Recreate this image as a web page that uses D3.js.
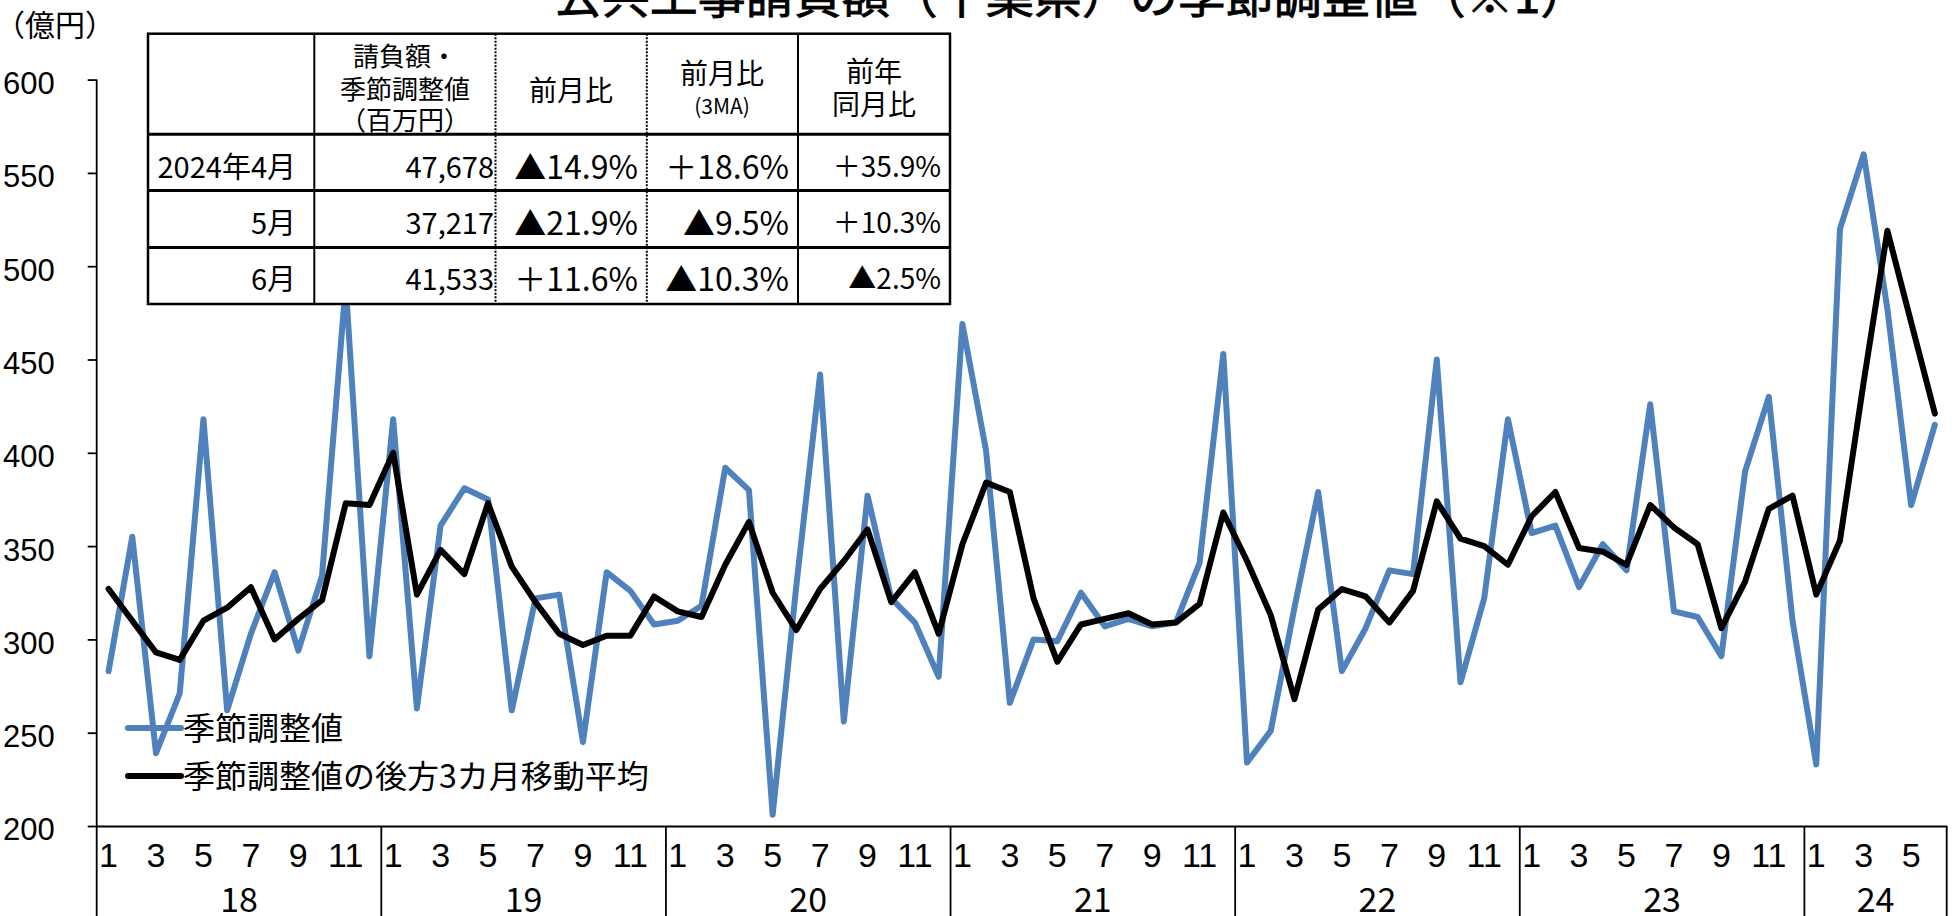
<!DOCTYPE html>
<html>
<head>
<meta charset="utf-8">
<script src="https://cdn.jsdelivr.net/npm/d3@7"></script>
<style>
	body { margin: 0; background: #fff; }
	svg { display: block; font-family: "Noto Sans CJK JP", "Noto Sans", sans-serif; }
</style>
</head>
<body>
<div id="container"></div>
<script>
// categories
const yearLabels = ["18", "19", "20", "21", "22", "23", "24"];
const monthsPerYear = [12, 12, 12, 12, 12, 12, 6];
const monthTickLabels = [1, 3, 5, 7, 9, 11];
const yTicks = [200, 250, 300, 350, 400, 450, 500, 550, 600];

// 季節調整値 (億円), Jan 2018 - Jun 2024
const seasonal = [
	283, 355, 239, 271, 418, 262, 303, 336, 294, 334, 490, 291, // 18
	418, 263, 361, 381, 375, 262, 322, 324, 245, 336, 326, 308, // 19
	310, 318, 392, 380, 206, 329, 442, 256, 377, 322, 309, 280, // 20
	469, 401, 266, 300, 299, 325, 307, 311, 307, 309, 341, 453, // 21
	234, 251, 317, 379, 283, 306, 337, 335, 450, 277, 322, 418, // 22
	357, 361, 328, 351, 337, 426, 315, 312, 291, 390, 430, 310, // 23
	233, 520, 560, 477, 372, 415 // 24
];

// 後方3カ月移動平均
const movingAvg = [
	327, 310, 293, 289, 310, 317, 328, 300, 311, 321, 373, 372,
	400, 324, 348, 335, 373, 339, 320, 303, 297, 302, 302, 323,
	315, 312, 340, 363, 325, 305, 327, 342, 359, 320, 336, 303,
	351, 384, 379, 322, 288, 308, 311, 314, 308, 309, 319, 368,
	342, 313, 268, 316, 327, 323, 309, 326, 374, 354, 350, 340,
	366, 379, 349, 347, 340, 372, 360, 351, 306, 331, 370, 377,
	324, 353, 438, 519, 470, 421
];

const seriesNames = ["季節調整値", "季節調整値の後方3カ月移動平均"];
const titleText = "公共工事請負額（千葉県）の季節調整値（※1）";
const unitText = "（億円）";

// table
const rowLabels = ["2024年4月", "5月", "6月"];
const amountCol = ["47,678", "37,217", "41,533"];
const momCol = ["▲14.9%", "▲21.9%", "＋11.6%"];
const mom3Col = ["＋18.6%", "▲9.5%", "▲10.3%"];
const yoyCol = ["＋35.9%", "＋10.3%", "▲2.5%"];

const blue = "#4f81bd";

drawChart();

function drawChart() {
	const width = 1955;
	const height = 916;
	const plot = { left: 96.7, right: 1946.7, top: 79.6, bottom: 826 };

	const categories = yearLabels.flatMap((yr, i) =>
		d3.range(1, monthsPerYear[i] + 1).map((m) => `${yr}-${m}`)
	);

	const svg = d3
		.select("#container")
		.append("svg")
		.attr("width", width)
		.attr("height", height);

	const x = d3.scaleBand().domain(categories).range([plot.left, plot.right]);
	const y = d3.scaleLinear().domain([200, 600]).range([plot.bottom, plot.top]);
	const cx = (i) => x(categories[i]) + x.bandwidth() / 2;

	// title (cut off at top)
	svg.append("text")
		.attr("x", 1071)
		.attr("y", 13)
		.attr("text-anchor", "middle")
		.attr("font-size", 48)
		.attr("stroke", "#000")
		.attr("stroke-width", 0.8)
		.text(titleText);

	svg.append("text")
		.attr("x", -5)
		.attr("y", 36)
		.attr("font-size", 30)
		.text(unitText);

	// y axis
	const yAxis = svg.append("g")
		.attr("transform", `translate(${plot.left},0)`)
		.call(d3.axisLeft(y).tickValues(yTicks).tickSize(9).tickSizeOuter(0).tickPadding(33));
	yAxis.select(".domain").remove();
	yAxis.selectAll(".tick line").attr("stroke", "#000").attr("stroke-width", 1.8);
	yAxis.selectAll(".tick text")
		.attr("font-size", 31)
		.attr("font-family", null)
		.attr("dy", "0.45em")
		.attr("fill", "#000");

	svg.append("line")
		.attr("x1", plot.left).attr("x2", plot.left)
		.attr("y1", plot.top).attr("y2", height)
		.attr("stroke", "#000").attr("stroke-width", 1.8);

	// x axis
	const xAxis = svg.append("g")
		.attr("transform", `translate(0,${plot.bottom})`)
		.call(
			d3.axisBottom(x)
				.tickValues(categories.filter((c) => monthTickLabels.includes(+c.split("-")[1])))
				.tickFormat((c) => c.split("-")[1])
				.tickSize(0)
				.tickSizeOuter(0)
				.tickPadding(17)
		);
	xAxis.select(".domain").attr("stroke", "#000").attr("stroke-width", 1.8);
	xAxis.selectAll(".tick text").attr("font-size", 34).attr("font-family", null).attr("fill", "#000");

	// year labels and separators
	let start = 0;
	yearLabels.forEach((yr, i) => {
		const first = categories[start];
		const last = categories[start + monthsPerYear[i] - 1];
		const x0 = x(first);
		const x1 = x(last) + x.bandwidth();
		svg.append("text")
			.attr("x", (x0 + x1) / 2)
			.attr("y", 912)
			.attr("text-anchor", "middle")
			.attr("font-size", 34)
			.text(yr);
		svg.append("line")
			.attr("x1", x1).attr("x2", x1)
			.attr("y1", plot.bottom).attr("y2", height)
			.attr("stroke", "#000").attr("stroke-width", 1.8);
		start += monthsPerYear[i];
	});

	// lines
	const line = d3.line().x((d, i) => cx(i)).y((d) => y(d));

	svg.append("path")
		.attr("d", line(seasonal))
		.attr("fill", "none")
		.attr("stroke", blue)
		.attr("stroke-width", 6)
		.attr("stroke-linejoin", "round")
		.attr("stroke-linecap", "round");

	svg.append("path")
		.attr("d", line(movingAvg))
		.attr("fill", "none")
		.attr("stroke", "#000")
		.attr("stroke-width", 6)
		.attr("stroke-linejoin", "round")
		.attr("stroke-linecap", "round");

	// legend
	const legend = svg.append("g").attr("class", "legend");
	[blue, "#000"].forEach((color, i) => {
		const ly = 728 + i * 48;
		legend.append("line")
			.attr("x1", 128).attr("x2", 181)
			.attr("y1", ly).attr("y2", ly)
			.attr("stroke", color)
			.attr("stroke-width", 6)
			.attr("stroke-linecap", "round");
		legend.append("text")
			.attr("x", 183)
			.attr("y", ly + 12)
			.attr("font-size", 32)
			.text(seriesNames[i]);
	});

	drawTable();

	function drawTable() {
		const cols = [148, 314.3, 495.5, 646.8, 798, 950];
		const rows = [33.7, 134.2, 190.4, 247.5, 304];
		const t = svg.append("g").attr("class", "table");

		t.append("rect")
			.attr("x", cols[0]).attr("y", rows[0])
			.attr("width", cols[5] - cols[0])
			.attr("height", rows[4] - rows[0])
			.attr("fill", "#fff")
			.attr("stroke", "#000")
			.attr("stroke-width", 2.5);

		rows.slice(1, 4).forEach((ry) => {
			t.append("line")
				.attr("x1", cols[0]).attr("x2", cols[5])
				.attr("y1", ry).attr("y2", ry)
				.attr("stroke", "#000").attr("stroke-width", 3);
		});
		[1, 4].forEach((c) => {
			t.append("line")
				.attr("x1", cols[c]).attr("x2", cols[c])
				.attr("y1", rows[0]).attr("y2", rows[4])
				.attr("stroke", "#000").attr("stroke-width", 2);
		});
		[2, 3].forEach((c) => {
			t.append("line")
				.attr("x1", cols[c]).attr("x2", cols[c])
				.attr("y1", rows[0]).attr("y2", rows[4])
				.attr("stroke", "#000").attr("stroke-width", 2)
				.attr("stroke-dasharray", "2,1.5");
		});

		const cell = (tx, ty, text, size, anchor) =>
			t.append("text")
				.attr("x", tx).attr("y", ty)
				.attr("text-anchor", anchor)
				.attr("dominant-baseline", "central")
				.attr("font-size", size)
				.text(text);

		// header
		cell(405, 54, "請負額・", 26, "middle");
		cell(405, 87.6, "季節調整値", 26, "middle");
		cell(405, 118.3, "（百万円）", 26, "middle");
		cell(571, 88.6, "前月比", 28, "middle");
		cell(722, 72, "前月比", 28, "middle");
		cell(722, 105, "(3MA)", 21, "middle");
		cell(874, 70.4, "前年", 28, "middle");
		cell(874, 103.4, "同月比", 28, "middle");

		const rowY = [164.6, 220.8, 277];
		rowLabels.forEach((r, i) => {
			cell(296, rowY[i], r, 29, "end");
			cell(494, rowY[i], amountCol[i], 29, "end");
			cell(638, rowY[i], momCol[i], 32, "end");
			cell(789, rowY[i], mom3Col[i], 32, "end");
			cell(941, rowY[i], yoyCol[i], 28, "end");
		});
	}
}
</script>
</body>
</html>
